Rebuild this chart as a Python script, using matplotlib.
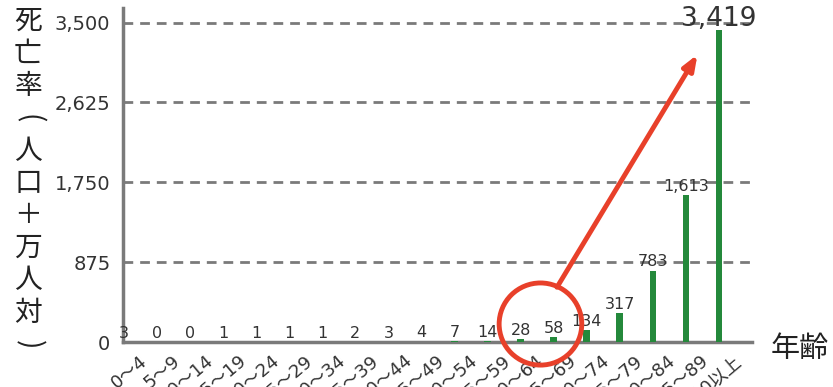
import matplotlib.pyplot as plt
from matplotlib.patches import Ellipse
from matplotlib.ticker import FuncFormatter
import matplotlib.transforms as mtransforms

plt.rcParams["font.family"] = ["DejaVu Sans", "Noto Sans CJK JP"]

# 年齢階級別の死亡率（人口10万人対）
age_groups = ["0～4", "5～9", "10～14", "15～19", "20～24", "25～29", "30～34",
              "35～39", "40～44", "45～49", "50～54", "55～59", "60～64",
              "65～69", "70～74", "75～79", "80～84", "85～89", "90以上"]
rates = [3, 0, 0, 1, 1, 1, 1, 2, 3, 4, 7, 14, 28, 58, 134, 317, 783, 1613, 3419]
y_ticks = [0, 875, 1750, 2625, 3500]

GREEN = "#24893b"
RED = "#e8402a"
GRAY = "#7a7a7a"
TEXT = "#333333"
CJK = ["Noto Sans CJK JP", "DejaVu Sans"]

W, H = 833, 387
fig = plt.figure(figsize=(W / 100, H / 100), dpi=100)
ax = fig.add_axes([123 / W, 45 / H, (752 - 123) / W, (342 - 8) / H])

x = list(range(len(age_groups)))
ax.bar(x, rates, width=0.2, color=GREEN, zorder=3)

ax.set_xlim(-0.03, 19.0)
ax.set_ylim(0, 3660)
ax.set_yticks(y_ticks)
ax.yaxis.set_major_formatter(FuncFormatter(lambda v, _: f"{int(v):,}"))
ax.tick_params(axis="y", length=0, pad=9, labelsize=14, labelcolor=TEXT)
ax.grid(axis="y", color=GRAY, linestyle=(0, (3.5, 2.5)), linewidth=2, zorder=1)
ax.set_axisbelow(True)

for s in ("top", "right"):
    ax.spines[s].set_visible(False)
for s in ("left", "bottom"):
    ax.spines[s].set_color(GRAY)
    ax.spines[s].set_linewidth(2.5)

# rotated age labels, running off the bottom edge
ax.set_xticks(x)
ax.set_xticklabels(age_groups, rotation=40, ha="right", va="top",
                   rotation_mode="anchor", fontsize=13, color=TEXT)
ax.tick_params(axis="x", length=0, pad=7)
shift = mtransforms.ScaledTranslation(0.15, 0, fig.dpi_scale_trans)
for lbl in ax.get_xticklabels():
    lbl.set_transform(lbl.get_transform() + shift)

# value labels above each bar
for xi, v in zip(x, rates):
    big = v == max(rates)
    ax.annotate(f"{v:,}", (xi, v), xytext=(0, 3), textcoords="offset points",
                ha="center", va="baseline", fontsize=19 if big else 11.5,
                color=TEXT, zorder=5, annotation_clip=False)

# highlight circle around 60-69 and arrow toward the 90+ value
i60 = age_groups.index("60～64")
ax.add_patch(Ellipse((i60 + 0.6, 197), width=2.5, height=900, fill=False,
                     edgecolor=RED, linewidth=3.5, zorder=6, clip_on=False))
ax.annotate("", xy=(len(x) - 1.65, 3150), xytext=(i60 + 1.1, 600),
            arrowprops=dict(arrowstyle="-|>,head_length=0.9,head_width=0.35",
                            color=RED, lw=3.5, shrinkA=0, shrinkB=0),
            zorder=6)

# vertical axis title, one character per row; brackets turned sideways
ylabel = "死亡率(人口＋万人対)"
for i, ch in enumerate(ylabel):
    rot = -90 if ch in "()" else 0
    fig.text(28 / W, 1 - (21 + 32.4 * i) / H, ch, ha="center", va="center",
             rotation=rot, fontsize=20, color="#222222", family=CJK)
fig.text(771 / W, 1 - 349 / H, "年齢", ha="left", va="center",
         fontsize=21, color="#222222", family=CJK)

fig.savefig("out.png", dpi=100, facecolor="white")
